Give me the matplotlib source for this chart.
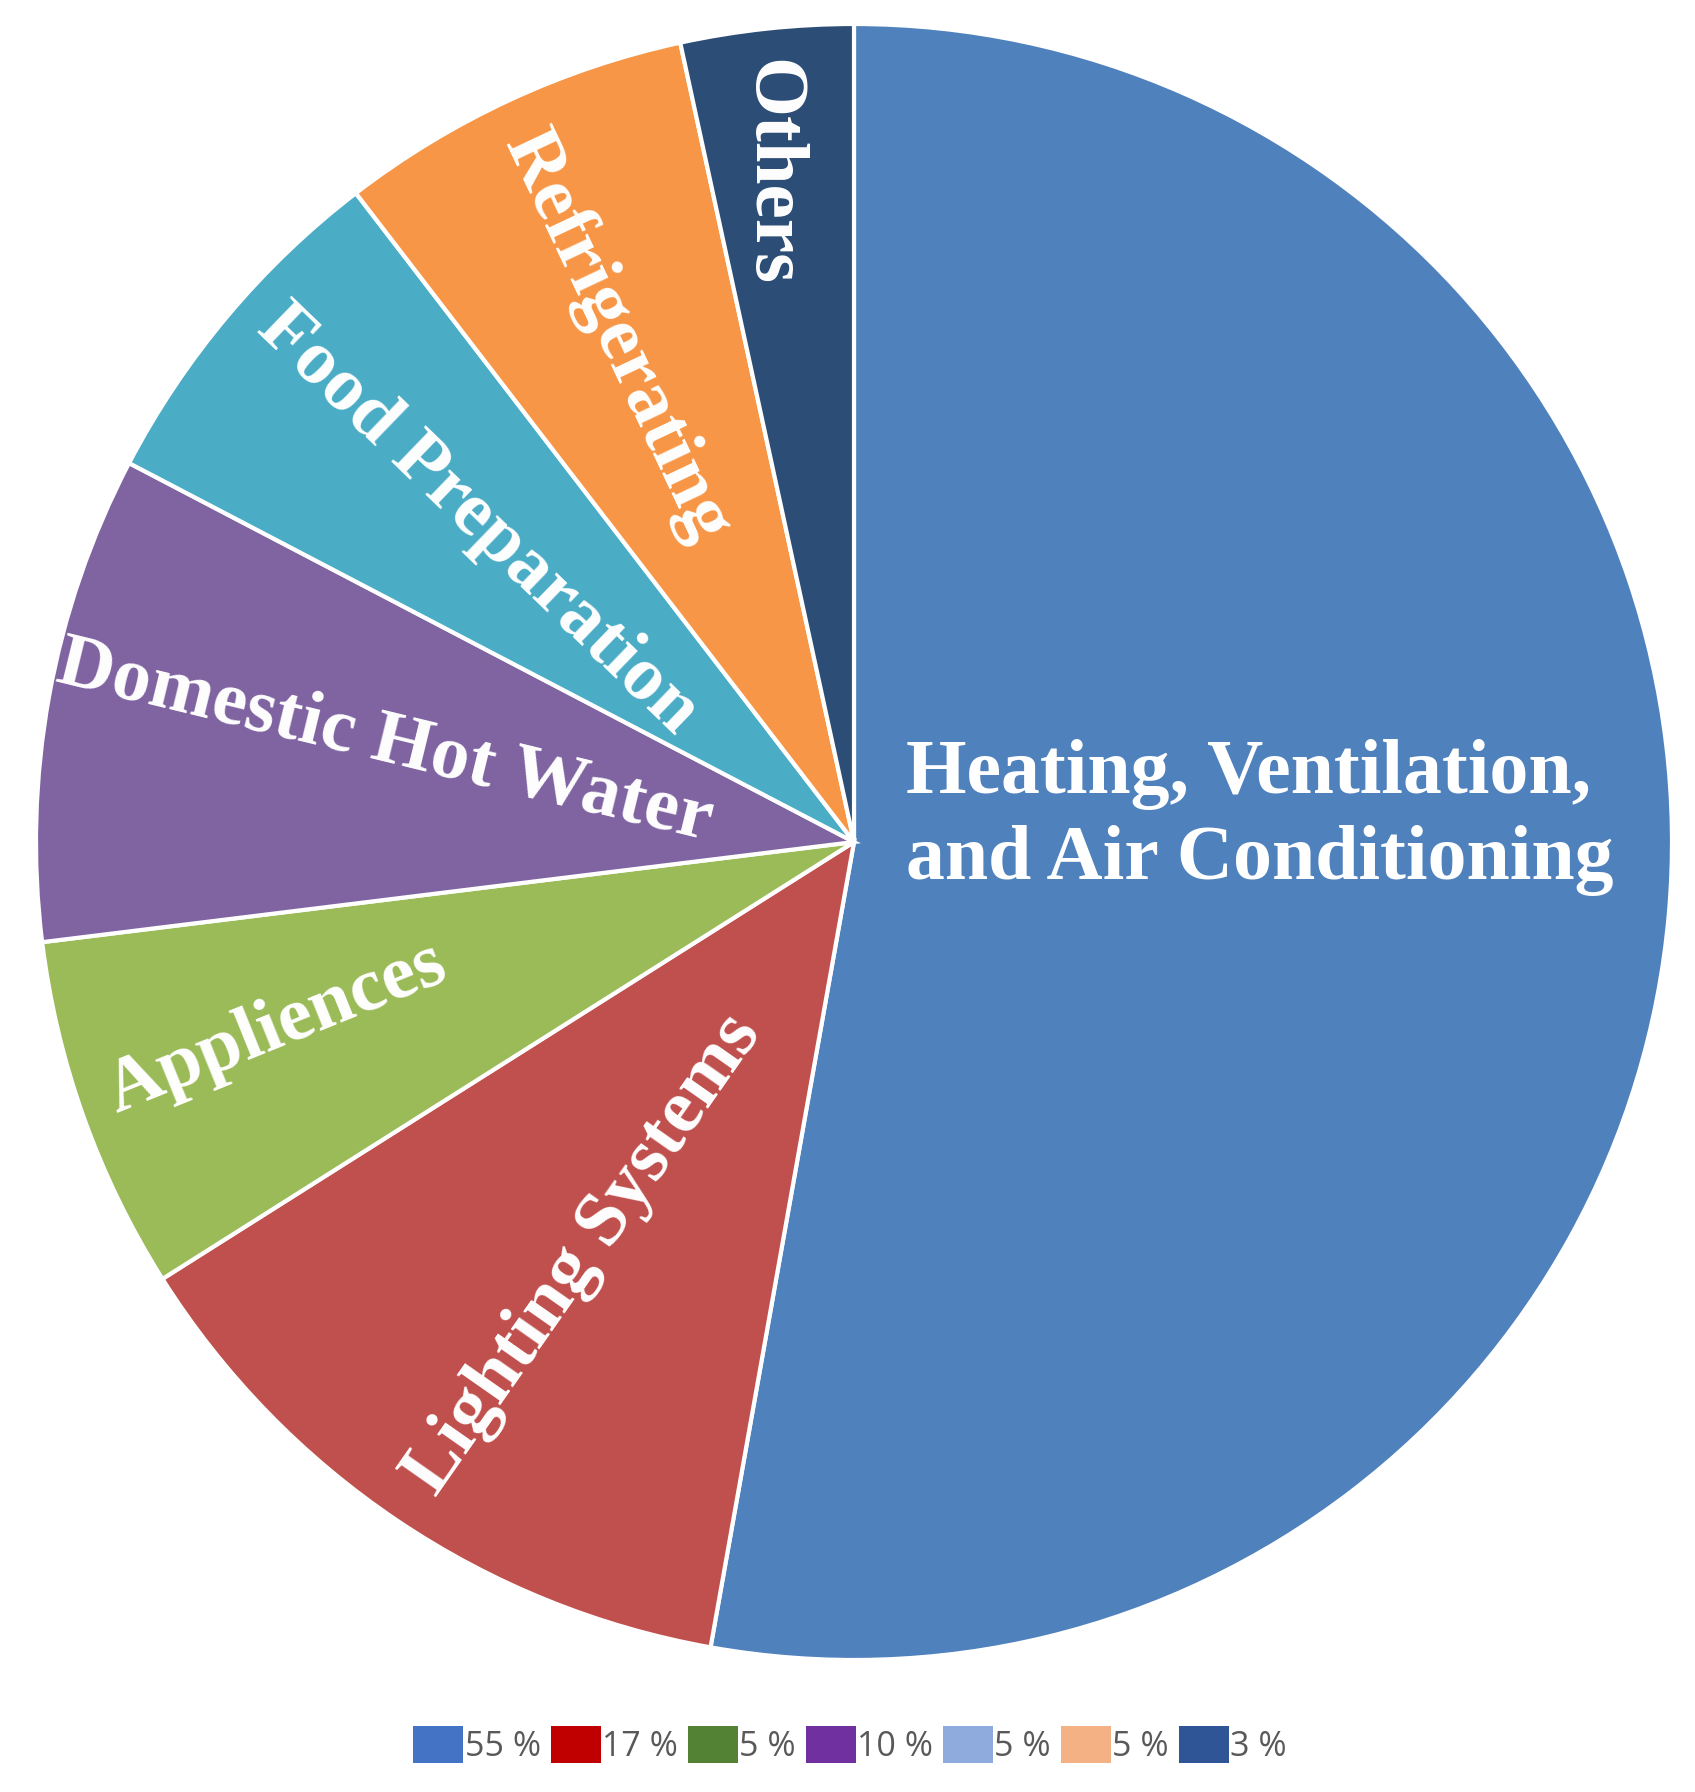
import matplotlib.pyplot as plt
from matplotlib.patches import Patch

categories = ['Heating, Ventilation,\nand Air Conditioning', 'Lighting Systems', 'Appliences',
              'Domestic Hot Water', 'Food Preparation', 'Refrigerating', 'Others']
shares = [52.7, 13.2, 7.0, 9.6, 6.9, 7.0, 3.4]
pie_colors = ['#4F81BD', '#C0504D', '#9BBB59', '#8064A2', '#4BACC6', '#F79646', '#2C4D75']

# Legend as printed under the chart
legend_labels = ['55 %', '17 %', '5 %', '10 %', '5 %', '5 %', '3 %']
legend_colors = ['#4472C4', '#C00000', '#548235', '#7030A0', '#8FAADC', '#F4B183', '#2F5597']

# Label placement (x, y in pie radius units) and rotation
label_pos = [(0.064, 0.030), (-0.330, -0.505), (-0.706, -0.228), (-0.574, 0.121),
             (-0.460, 0.394), (-0.290, 0.618), (-0.102, 0.818)]
label_rot = [0, 55, 22, -13.7, -44, -64.7, -90]

W, H = 1695, 1792
fig = plt.figure(figsize=(W / 100, H / 100), dpi=100)
cx, cy, R = 854, 842, 818
ax = fig.add_axes([(cx - R) / W, (H - cy - R) / H, 2 * R / W, 2 * R / H])

ax.pie(shares, colors=pie_colors, startangle=90, counterclock=False, radius=1,
       wedgeprops=dict(edgecolor='white', linewidth=3))
ax.set_xlim(-1, 1)
ax.set_ylim(-1, 1)
ax.set_aspect('equal')
ax.axis('off')

for i, name in enumerate(categories):
    x, y = label_pos[i]
    if i == 0:
        ax.text(x, y, name, ha='left', va='center', color='white', fontsize=56,
                fontweight='bold', family='Liberation Serif', linespacing=1.27)
    else:
        ax.text(x, y, name, ha='center', va='center', color='white', fontsize=55.5,
                fontweight='bold', family='Liberation Serif', rotation=label_rot[i],
                rotation_mode='anchor')

handles = [Patch(facecolor=c, edgecolor='none') for c in legend_colors]
fig.legend(handles, legend_labels, loc='center', bbox_to_anchor=(850 / W, 1 - 1745 / H),
           ncol=7, frameon=False, prop={'family': 'Open Sans', 'size': 24.5},
           labelcolor='#595959', handlelength=1.47, handleheight=1.3,
           handletextpad=0.05, columnspacing=0.28)

fig.savefig('out.png', dpi=100)
